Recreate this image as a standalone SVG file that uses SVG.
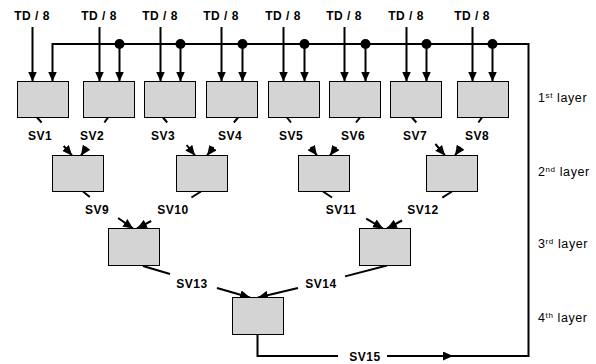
<svg xmlns="http://www.w3.org/2000/svg" width="596" height="364" viewBox="0 0 596 364">
<style>
.box{fill:#d4d4d4;stroke:#000;stroke-width:1}
.ln{fill:none;stroke:#000;stroke-width:2}
.ar{fill:none;stroke:#000;stroke-width:2;marker-end:url(#ah)}
.lb{font-family:"Liberation Sans",Arial,sans-serif;font-weight:bold;font-size:12px;text-anchor:middle;fill:#000;letter-spacing:0.5px}
.ly{font-family:"Liberation Sans",Arial,sans-serif;font-size:12.5px;fill:#000;letter-spacing:0.6px}
.dot{fill:#000}
</style>
<defs>
<marker id="ah" markerUnits="userSpaceOnUse" markerWidth="10" markerHeight="9" refX="10" refY="4.5" orient="auto" viewBox="0 0 10 9">
<path d="M0,0 L10,4.5 L0,9 z" fill="#000"/>
</marker>
</defs>
<g id="inputs">
<text class="lb" x="32" y="20">TD / 8</text>
<text class="lb" x="99" y="20">TD / 8</text>
<text class="lb" x="160" y="20">TD / 8</text>
<text class="lb" x="221" y="20">TD / 8</text>
<text class="lb" x="283" y="20">TD / 8</text>
<text class="lb" x="344" y="20">TD / 8</text>
<text class="lb" x="406" y="20">TD / 8</text>
<text class="lb" x="472" y="20">TD / 8</text>
</g>
<g id="connectors">
<line class="ar" x1="32.5" y1="27" x2="32.5" y2="81.5"/>
<line class="ar" x1="99.5" y1="27" x2="99.5" y2="81.5"/>
<line class="ar" x1="160.5" y1="27" x2="160.5" y2="81.5"/>
<line class="ar" x1="221.5" y1="27" x2="221.5" y2="81.5"/>
<line class="ar" x1="283.5" y1="27" x2="283.5" y2="81.5"/>
<line class="ar" x1="344.5" y1="27" x2="344.5" y2="81.5"/>
<line class="ar" x1="406.5" y1="27" x2="406.5" y2="81.5"/>
<line class="ar" x1="472.5" y1="27" x2="472.5" y2="81.5"/>
<path class="ar" d="M448,356 H528.5 V44 H52.5 V81.5"/>
<line class="ar" x1="119.5" y1="44" x2="119.5" y2="81.5"/>
<line class="ar" x1="180.5" y1="44" x2="180.5" y2="81.5"/>
<line class="ar" x1="242.5" y1="44" x2="242.5" y2="81.5"/>
<line class="ar" x1="304.5" y1="44" x2="304.5" y2="81.5"/>
<line class="ar" x1="365.5" y1="44" x2="365.5" y2="81.5"/>
<line class="ar" x1="426.5" y1="44" x2="426.5" y2="81.5"/>
<line class="ar" x1="492.5" y1="44" x2="492.5" y2="81.5"/>
<circle class="dot" cx="119.5" cy="44" r="5"/>
<circle class="dot" cx="180.5" cy="44" r="5"/>
<circle class="dot" cx="242.5" cy="44" r="5"/>
<circle class="dot" cx="304.5" cy="44" r="5"/>
<circle class="dot" cx="365.5" cy="44" r="5"/>
<circle class="dot" cx="426.5" cy="44" r="5"/>
<circle class="dot" cx="492.5" cy="44" r="5"/>
<!-- layer 1 to 2 -->
<line class="ln" x1="37" y1="117.5" x2="41.6" y2="122.5"/>
<line class="ar" x1="63.7" y1="146" x2="72" y2="155.5"/>
<line class="ln" x1="108" y1="117.5" x2="104.4" y2="122.5"/>
<line class="ar" x1="86.7" y1="147" x2="81" y2="155.5"/>
<line class="ln" x1="163" y1="117.5" x2="167.2" y2="122.5"/>
<line class="ar" x1="186.6" y1="145" x2="195" y2="155.5"/>
<line class="ln" x1="238" y1="117.5" x2="233.9" y2="122.5"/>
<line class="ar" x1="213.5" y1="147" x2="207" y2="155.5"/>
<line class="ln" x1="287" y1="117.5" x2="291" y2="122.5"/>
<line class="ar" x1="310.7" y1="147" x2="317" y2="155.5"/>
<line class="ln" x1="360" y1="117.5" x2="356" y2="122.5"/>
<line class="ar" x1="336.3" y1="147" x2="330" y2="155.5"/>
<line class="ln" x1="412" y1="117.5" x2="416.3" y2="122.5"/>
<line class="ar" x1="435.4" y1="144" x2="445" y2="155.5"/>
<line class="ln" x1="482" y1="117.5" x2="478.4" y2="122.5"/>
<line class="ar" x1="460.7" y1="147" x2="455" y2="155.5"/>
<!-- layer 2 to 3 -->
<line class="ln" x1="83" y1="191.5" x2="89.8" y2="197"/>
<line class="ar" x1="118.1" y1="218" x2="133" y2="228.5"/>
<line class="ln" x1="201" y1="191.5" x2="191.4" y2="197.5"/>
<line class="ar" x1="151.2" y1="221" x2="137" y2="228.5"/>
<line class="ln" x1="323" y1="191.5" x2="332" y2="197.5"/>
<line class="ar" x1="366.2" y1="218.6" x2="383" y2="228.5"/>
<line class="ln" x1="452" y1="191.5" x2="442.3" y2="197.6"/>
<line class="ar" x1="402" y1="220.5" x2="387" y2="228.5"/>
<!-- layer 3 to 4 -->
<line class="ln" x1="143" y1="266" x2="170" y2="274"/>
<line class="ar" x1="217" y1="288" x2="250" y2="297.5"/>
<line class="ln" x1="387" y1="265.5" x2="345" y2="276.4"/>
<line class="ar" x1="298" y1="288" x2="258" y2="297.5"/>
<!-- output -->
<path class="ln" d="M257.5,335 V356 H338"/>
<line class="ar" x1="387" y1="356" x2="453" y2="356"/>
</g>
<g id="labels">
<text class="lb" x="40" y="140">SV1</text>
<text class="lb" x="92" y="140">SV2</text>
<text class="lb" x="163" y="140">SV3</text>
<text class="lb" x="230" y="140">SV4</text>
<text class="lb" x="291" y="140">SV5</text>
<text class="lb" x="353" y="140">SV6</text>
<text class="lb" x="415" y="140">SV7</text>
<text class="lb" x="477" y="140">SV8</text>
<text class="lb" x="97" y="214">SV9</text>
<text class="lb" x="173" y="214">SV10</text>
<text class="lb" x="341" y="214">SV11</text>
<text class="lb" x="423" y="214">SV12</text>
<text class="lb" x="192" y="288">SV13</text>
<text class="lb" x="321" y="288">SV14</text>
<text class="lb" x="365" y="361">SV15</text>
<text class="ly" x="538" y="102">1<tspan font-size="8" dy="-4">st</tspan><tspan dy="4"> layer</tspan></text>
<text class="ly" x="538" y="176">2<tspan font-size="8" dy="-4">nd</tspan><tspan dy="4"> layer</tspan></text>
<text class="ly" x="538" y="248">3<tspan font-size="8" dy="-4">rd</tspan><tspan dy="4"> layer</tspan></text>
<text class="ly" x="538" y="322">4<tspan font-size="8" dy="-4">th</tspan><tspan dy="4"> layer</tspan></text>
</g>
<g id="node-1-1"><rect class="box" x="17.5" y="81.5" width="51" height="36"/></g>
<g id="node-1-2"><rect class="box" x="83.5" y="81.5" width="51" height="36"/></g>
<g id="node-1-3"><rect class="box" x="144.5" y="81.5" width="51" height="36"/></g>
<g id="node-1-4"><rect class="box" x="206.5" y="81.5" width="51" height="36"/></g>
<g id="node-1-5"><rect class="box" x="268.5" y="81.5" width="51" height="36"/></g>
<g id="node-1-6"><rect class="box" x="329.5" y="81.5" width="51" height="36"/></g>
<g id="node-1-7"><rect class="box" x="390.5" y="81.5" width="51" height="36"/></g>
<g id="node-1-8"><rect class="box" x="457.5" y="81.5" width="51" height="36"/></g>
<g id="node-2-1"><rect class="box" x="52.5" y="155.5" width="51" height="36"/></g>
<g id="node-2-2"><rect class="box" x="176.5" y="155.5" width="51" height="36"/></g>
<g id="node-2-3"><rect class="box" x="298.5" y="155.5" width="51" height="36"/></g>
<g id="node-2-4"><rect class="box" x="426.5" y="155.5" width="51" height="36"/></g>
<g id="node-3-1"><rect class="box" x="108.5" y="228.5" width="51" height="37"/></g>
<g id="node-3-2"><rect class="box" x="359.5" y="228.5" width="51" height="37"/></g>
<g id="node-4-1"><rect class="box" x="232.5" y="297.5" width="51" height="37"/></g>
</svg>
